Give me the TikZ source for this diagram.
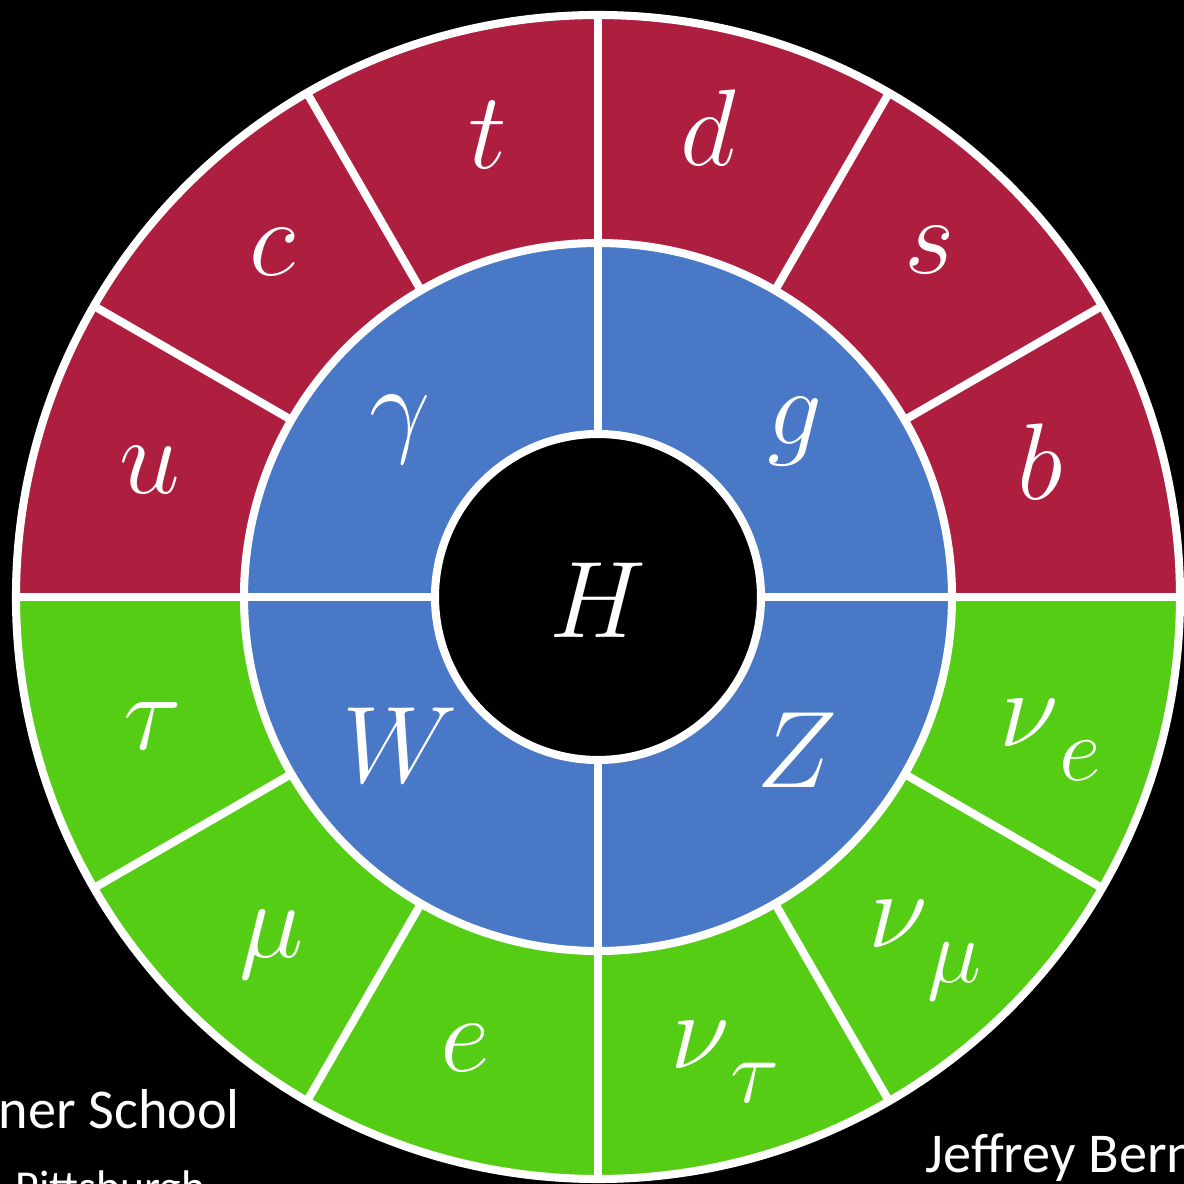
\RequirePackage{fix-cm}
\documentclass[tikz,border=0pt]{standalone}
\usepackage{fontspec}
\newfontfamily\capfont{Carlito}
\definecolor{quarkred}{HTML}{AE1F3F}
\definecolor{bosonblue}{HTML}{4878C6}
\definecolor{leptongreen}{HTML}{55CD14}
\newcommand{\nusub}[1]{$\nu$\raisebox{-0.32em}{\fontsize{26}{26}\selectfont$#1$}}

\begin{document}
\begin{tikzpicture}[
    ring/.style={draw=white, line width=2.3pt},
    lbl/.style={text=white, inner sep=0pt, font=\fontsize{31}{31}\selectfont},
    caption/.style={text=white, anchor=base west, inner sep=0pt}
]
\useasboundingbox (-5.98,-5.87) rectangle (5.86,5.97);
\clip (-5.98,-5.87) rectangle (5.86,5.97);
\fill[black] (-5.98,-5.87) rectangle (5.86,5.97);

% fermion ring, bosons, Higgs
\fill[quarkred] (5.82,0) arc (0:180:5.82) -- cycle;
\fill[leptongreen] (-5.82,0) arc (180:360:5.82) -- cycle;
\fill[bosonblue] (0,0) circle (3.54);
\fill[black] (0,0) circle (1.63);

\draw[ring] (0,0) circle (5.82) (0,0) circle (3.54) (0,0) circle (1.63);
\foreach \a in {0,90,180,270}
  \draw[ring] (\a:1.63) -- (\a:5.82);
\foreach \a in {30,60,120,150,210,240,300,330}
  \draw[ring] (\a:3.54) -- (\a:5.82);

% quarks and leptons
\foreach \x/\y/\n/\t in {-4.48/1.27/u/u, -3.26/3.45/c/c, -1.10/4.62/t/t,
                         1.10/4.69/d/d, 3.32/3.47/s/s, 4.42/1.35/b/b,
                         -4.45/-1.29/tau/\tau, -3.26/-3.48/mu/\mu, -1.33/-4.51/e/e}
  \node[lbl] (f-\n) at (\x,\y) {$\t$};
\node[lbl] (f-nutau) at (1.27,-4.65) {\nusub{\tau}};
\node[lbl] (f-numu)  at (3.27,-3.53) {\nusub{\mu}};
\node[lbl] (f-nue)   at (4.52,-1.43) {\nusub{e}};

% gauge bosons
\foreach \x/\y/\n/\t in {-1.98/1.67/gamma/\gamma, 1.97/1.65/g/g,
                         -1.98/-1.48/W/W, 1.99/-1.53/Z/Z}
  \node[lbl] (v-\n) at (\x,\y) {$\t$};
\node[lbl] (higgs) at (0,-0.03) {$H$};

% slide captions
\node[caption, font=\capfont\fontsize{16}{16}\selectfont] (school) at (-6.0,-5.31) {ner School};
\node[caption, font=\capfont\fontsize{13}{13}\selectfont] (place) at (-5.83,-6.05) {Pittsburgh};
\node[caption, font=\capfont\fontsize{16}{16}\selectfont] (author) at (3.27,-5.75) {Jeffrey Bern};
\end{tikzpicture}
\end{document}
